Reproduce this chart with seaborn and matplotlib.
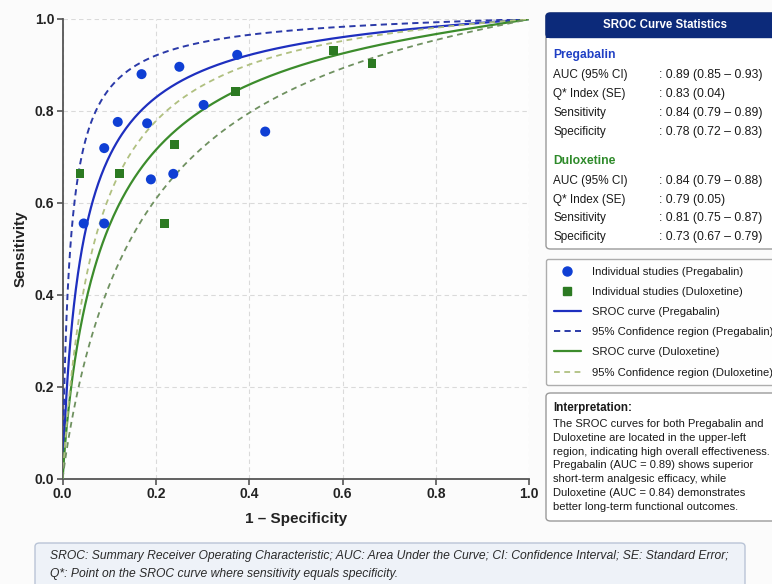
import numpy as np
import pandas as pd
import seaborn as sns
import matplotlib
matplotlib.use("Agg")
import matplotlib.pyplot as plt
from matplotlib.lines import Line2D
from matplotlib.patches import FancyBboxPatch, Rectangle

# ---------------- data ----------------
preg_fpr = [0.045, 0.089, 0.089, 0.118, 0.169, 0.181, 0.189, 0.237, 0.250, 0.302, 0.374, 0.434]
preg_sens = [0.555, 0.555, 0.719, 0.776, 0.880, 0.773, 0.651, 0.663, 0.896, 0.813, 0.922, 0.755]

dulo_fpr = [0.037, 0.121, 0.219, 0.239, 0.370, 0.580, 0.663]
dulo_sens = [0.663, 0.664, 0.555, 0.727, 0.843, 0.931, 0.904]

# SROC model curves: logit(sens) = intercept + slope * logit(fpr)
curve_names = ["preg_sroc", "preg_ci_upper", "dulo_sroc", "dulo_ci_upper", "dulo_ci_lower"]
curve_intercepts = [2.83, 3.70, 2.153, 2.60, 1.741]
curve_slopes = [0.90, 0.90, 0.888, 0.97, 0.937]

stats_labels = ["AUC (95% CI)", "Q* Index (SE)", "Sensitivity", "Specificity"]
preg_stats = [": 0.89 (0.85 – 0.93)", ": 0.83 (0.04)", ": 0.84 (0.79 – 0.89)", ": 0.78 (0.72 – 0.83)"]
dulo_stats = [": 0.84 (0.79 – 0.88)", ": 0.79 (0.05)", ": 0.81 (0.75 – 0.87)", ": 0.73 (0.67 – 0.79)"]

ticks = [0.0, 0.2, 0.4, 0.6, 0.8, 1.0]

interp_lines = [
    "The SROC curves for both Pregabalin and",
    "Duloxetine are located in the upper-left",
    "region, indicating high overall effectiveness.",
    "Pregabalin (AUC = 0.89) shows superior",
    "short-term analgesic efficacy, while",
    "Duloxetine (AUC = 0.84) demonstrates",
    "better long-term functional outcomes.",
]
footnote_lines = [
    "SROC: Summary Receiver Operating Characteristic; AUC: Area Under the Curve; CI: Confidence Interval; SE: Standard Error;",
    "Q*: Point on the SROC curve where sensitivity equals specificity.",
]

# ---------------- styling ----------------
sns.set_theme(style="whitegrid")
FONT = ["Liberation Sans", "DejaVu Sans"]
plt.rcParams["font.family"] = FONT

W, H = 772, 584
fig = plt.figure(figsize=(W / 100, H / 100), dpi=100, facecolor="#fbfbfb")


def fx(px):
    return px / W


def fy(py):
    return 1 - py / H


ax = fig.add_axes([fx(62.7), fy(478.5), fx(529.3) - fx(62.7), fy(19) - fy(478.5)])
ax.set_facecolor("#fdfdfd")

BLUE_PT = "#0f3fd4"
GREEN_PT = "#2c7a22"
BLUE_LINE = "#1e2fbf"
BLUE_DASH = "#2b3aa8"
GREEN_LINE = "#3c8c2c"
GREEN_LIGHT = "#b0c080"
GREEN_DASH = "#6f9160"


def curve_frame(a, b):
    xs = np.concatenate([np.logspace(-6, -1, 300), np.linspace(0.1, 0.999999, 300)])
    lg = a + b * np.log(xs / (1 - xs))
    ys = 1 / (1 + np.exp(-lg))
    xs = np.concatenate([[0.0], xs, [1.0]])
    ys = np.concatenate([[0.0], ys, [1.0]])
    return pd.DataFrame({"x": xs, "y": ys})


curve_styles = {
    "preg_sroc": dict(color=BLUE_LINE, lw=1.6, ls="-"),
    "preg_ci_upper": dict(color=BLUE_DASH, lw=1.4, ls=(0, (3.2, 2.2))),
    "dulo_sroc": dict(color=GREEN_LINE, lw=1.6, ls="-"),
    "dulo_ci_upper": dict(color=GREEN_LIGHT, lw=1.3, ls=(0, (3.2, 2.5))),
    "dulo_ci_lower": dict(color=GREEN_DASH, lw=1.3, ls=(0, (3.2, 2.5))),
}

for name, a, b in zip(curve_names, curve_intercepts, curve_slopes):
    df = curve_frame(a, b)
    st = curve_styles[name]
    sns.lineplot(data=df, x="x", y="y", ax=ax, color=st["color"], linewidth=st["lw"],
                 linestyle=st["ls"], estimator=None, sort=False, zorder=3)

sns.scatterplot(x=preg_fpr, y=preg_sens, ax=ax, color=BLUE_PT, marker="o", s=52,
                edgecolor="none", zorder=5)
sns.scatterplot(x=dulo_fpr, y=dulo_sens, ax=ax, color=GREEN_PT, marker="s", s=40,
                edgecolor="none", zorder=5)

ax.set_xlim(0, 1)
ax.set_ylim(0, 1)
ax.set_xticks(ticks)
ax.set_yticks(ticks)
ax.set_xticklabels([f"{t:.1f}" for t in ticks], fontweight="bold", fontsize=10, color="#222")
ax.set_yticklabels([f"{t:.1f}" for t in ticks], fontweight="bold", fontsize=10, color="#222")
ax.grid(True, linestyle=(0, (4, 3)), color="#dadada", linewidth=0.8)
for s in ["top", "right"]:
    ax.spines[s].set_visible(False)
for s in ["left", "bottom"]:
    ax.spines[s].set_color("#555")
    ax.spines[s].set_linewidth(1.3)
ax.tick_params(axis="both", which="both", direction="out", length=4, width=1.2,
               color="#555", pad=2, bottom=True, left=True)
ax.set_xlabel("1 – Specificity", fontsize=11, fontweight="bold", color="#222", labelpad=8)
ax.set_ylabel("Sensitivity", fontsize=11, fontweight="bold", color="#222", labelpad=5)

# ---------------- stats box ----------------
box_l, box_r = 546, 790
st_top, st_bot = 13, 249
fig.patches.append(FancyBboxPatch((fx(box_l), fy(st_bot)), fx(box_r) - fx(box_l), fy(st_top) - fy(st_bot),
                                  boxstyle="round,pad=0,rounding_size=0.006", transform=fig.transFigure,
                                  facecolor="white", edgecolor="#9a9a9a", linewidth=1.0, zorder=1))
fig.patches.append(FancyBboxPatch((fx(box_l), fy(37.5)), fx(box_r) - fx(box_l), fy(st_top) - fy(37.5),
                                  boxstyle="round,pad=0,rounding_size=0.006", transform=fig.transFigure,
                                  facecolor="#0c2a7a", edgecolor="#0c2a7a", linewidth=1.0, zorder=2))
fig.patches.append(Rectangle((fx(box_l), fy(37.5)), fx(box_r) - fx(box_l), fy(28) - fy(37.5),
                             transform=fig.transFigure, facecolor="#0c2a7a", edgecolor="none", zorder=2))
fig.text(fx(665), fy(25.5), "SROC Curve Statistics", color="white", fontsize=8.3, fontweight="bold",
         ha="center", va="center", zorder=3)

TXT = "#1a1a1a"
FS = 8.5
fig.text(fx(553), fy(55), "Pregabalin", color="#1f3fc4", fontsize=8.7, fontweight="bold", va="center")
for i, (lab, val) in enumerate(zip(stats_labels, preg_stats)):
    y = 75 + i * 19
    fig.text(fx(553), fy(y), lab, color=TXT, fontsize=FS, va="center")
    fig.text(fx(659), fy(y), val, color=TXT, fontsize=8.8, va="center")
fig.text(fx(553), fy(161), "Duloxetine", color="#2e8a2a", fontsize=8.7, fontweight="bold", va="center")
for i, (lab, val) in enumerate(zip(stats_labels, dulo_stats)):
    y = 181 + i * 18.7
    fig.text(fx(553), fy(y), lab, color=TXT, fontsize=FS, va="center")
    fig.text(fx(659), fy(y), val, color=TXT, fontsize=8.8, va="center")

# ---------------- legend ----------------
handles = [
    Line2D([], [], ls="none", marker="o", ms=6.5, color=BLUE_PT),
    Line2D([], [], ls="none", marker="s", ms=5.8, color=GREEN_PT),
    Line2D([], [], color=BLUE_LINE, lw=1.6),
    Line2D([], [], color=BLUE_DASH, lw=1.4, ls=(0, (3.2, 2.2))),
    Line2D([], [], color=GREEN_LINE, lw=1.6),
    Line2D([], [], color=GREEN_LIGHT, lw=1.3, ls=(0, (3.2, 2.5))),
]
labels = [
    "Individual studies (Pregabalin)",
    "Individual studies (Duloxetine)",
    "SROC curve (Pregabalin)",
    "95% Confidence region (Pregabalin)",
    "SROC curve (Duloxetine)",
    "95% Confidence region (Duloxetine)",
]
leg = fig.legend(handles, labels, loc="upper left", bbox_to_anchor=(fx(box_l), fy(259)),
                 borderaxespad=0, frameon=True, fancybox=True, fontsize=8.1,
                 handlelength=2.4, handletextpad=0.95, labelspacing=0.9, borderpad=0.7)
leg.get_frame().set_edgecolor("#9a9a9a")
leg.get_frame().set_linewidth(1.0)
leg.get_frame().set_facecolor("white")
for t in leg.get_texts():
    t.set_color(TXT)

# ---------------- interpretation box ----------------
fig.patches.append(FancyBboxPatch((fx(box_l), fy(521)), fx(box_r) - fx(box_l), fy(393) - fy(521),
                                  boxstyle="round,pad=0,rounding_size=0.006", transform=fig.transFigure,
                                  facecolor="white", edgecolor="#9a9a9a", linewidth=1.0, zorder=1))
fig.text(fx(553), fy(407.5), "Interpretation:", color=TXT, fontsize=8.4, fontweight="bold", va="center")
for i, line in enumerate(interp_lines):
    fig.text(fx(553), fy(424 + i * 13.8), line, color=TXT, fontsize=8.0, va="center")

# ---------------- footnote ----------------
fig.patches.append(FancyBboxPatch((fx(35), fy(590)), fx(745) - fx(35), fy(543) - fy(590),
                                  boxstyle="round,pad=0,rounding_size=0.006", transform=fig.transFigure,
                                  facecolor="#eef2f8", edgecolor="#b9c4d6", linewidth=1.0, zorder=1))
for i, line in enumerate(footnote_lines):
    fig.text(fx(50), fy(556 + i * 18), line, color="#2a2a2a", fontsize=8.7, style="italic", va="center")

fig.savefig("out.png", dpi=100, facecolor=fig.get_facecolor())
